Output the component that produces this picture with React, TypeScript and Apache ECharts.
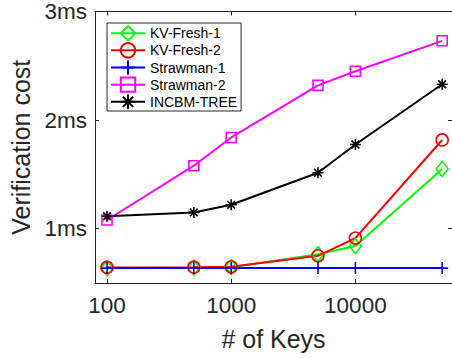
import React, { useEffect, useRef } from 'react';
import * as echarts from 'echarts';

const keys = [100, 500, 1000, 5000, 10000, 50000];
const kvFresh1 = [0.635, 0.64, 0.645, 0.765, 0.84, 1.55];
const kvFresh2 = [0.643, 0.646, 0.649, 0.75, 0.914, 1.817];
const strawman1 = [0.637, 0.637, 0.637, 0.637, 0.637, 0.637];
const strawman2 = [1.08, 1.58, 1.84, 2.32, 2.45, 2.73];
const incbm = [1.115, 1.15, 1.22, 1.515, 1.775, 2.33];
const xTicks = [100, 1000, 10000];
const yTicks = [1, 2, 3];

const FONT = '"Liberation Sans", Arial, Helvetica, sans-serif';
const AX = '#262626';

const plusPath = 'path://M0,5L10,5M5,0L5,10';
const starPath = 'path://M0,5L10,5M5,0L5,10M1.5,1.5L8.5,8.5M1.5,8.5L8.5,1.5';

function mk(name: string, vals: number[], color: string, symbol: string, size: number | number[], hollow: boolean) {
  return {
    name,
    type: 'line',
    data: keys.map((k, i) => [k, vals[i]]),
    symbol,
    symbolSize: size,
    showAllSymbol: true,
    lineStyle: { color, width: 2 },
    itemStyle: {
      color: hollow ? 'rgba(0,0,0,0)' : color,
      borderColor: color,
      borderWidth: 1.6,
    },
    emphasis: { disabled: true },
  };
}

export default function App() {
  const ref = useRef<HTMLDivElement>(null);
  useEffect(() => {
    if (!ref.current) return;
    const chart = echarts.init(ref.current, undefined, { renderer: 'svg' });
    const xBase = {
      type: 'log',
      logBase: 10,
      min: 80,
      max: 60000,
      splitLine: { show: false },
      axisLine: { show: true, lineStyle: { color: AX, width: 1 } },
      axisTick: { show: true, inside: true, length: 4, customValues: xTicks, lineStyle: { color: AX } },
    };
    const yBase = {
      type: 'value',
      min: 0.5,
      max: 3,
      splitLine: { show: false },
      axisLine: { show: true, lineStyle: { color: AX, width: 1 } },
      axisTick: { show: true, inside: true, length: 4, customValues: yTicks, lineStyle: { color: AX } },
    };
    chart.setOption({
      animation: false,
      backgroundColor: '#fff',
      grid: { left: 95, top: 10, width: 357.4, height: 273, containLabel: false },
      xAxis: [
        {
          ...xBase,
          position: 'bottom',
          name: '# of Keys',
          nameLocation: 'middle',
          nameGap: 43,
          nameTextStyle: { fontFamily: FONT, fontSize: 25, color: AX },
          axisLabel: {
            customValues: xTicks,
            margin: 11,
            fontFamily: FONT,
            fontSize: 22.5,
            color: AX,
            formatter: (v: number) => String(v),
          },
        },
        {
          ...xBase,
          position: 'top',
          axisLabel: { show: false },
        },
      ],
      yAxis: [
        {
          ...yBase,
          position: 'left',
          name: 'Verification cost',
          nameLocation: 'middle',
          nameGap: 57,
          nameTextStyle: { fontFamily: FONT, fontSize: 25, color: AX },
          axisLabel: {
            customValues: yTicks,
            margin: 8,
            fontFamily: FONT,
            fontSize: 22.5,
            color: AX,
            formatter: (v: number) => v + 'ms',
          },
        },
        {
          ...yBase,
          position: 'right',
          axisLabel: { show: false },
        },
      ],
      legend: {
        orient: 'vertical',
        left: 107,
        top: 23,
        padding: [2, 4, 1, 3],
        itemGap: 0.75,
        itemWidth: 34,
        itemHeight: 18,
        backgroundColor: '#fff',
        borderColor: AX,
        borderWidth: 1,
        textStyle: { fontFamily: FONT, fontSize: 14, color: '#000' },
        data: ['KV-Fresh-1', 'KV-Fresh-2', 'Strawman-1', 'Strawman-2', 'INCBM-TREE'],
      },
      series: [
        mk('KV-Fresh-1', kvFresh1, '#00ff00', 'diamond', [12, 15], true),
        mk('KV-Fresh-2', kvFresh2, '#ff0000', 'circle', 12, true),
        mk('Strawman-1', strawman1, '#0000ff', plusPath, 12, false),
        mk('Strawman-2', strawman2, '#ff00ff', 'rect', 10, true),
        mk('INCBM-TREE', incbm, '#000000', starPath, 11, false),
      ],
    });
    return () => chart.dispose();
  }, []);
  return <div ref={ref} style={{ position: 'fixed', left: 0, top: 0, width: 452, height: 358 }} />;
}
